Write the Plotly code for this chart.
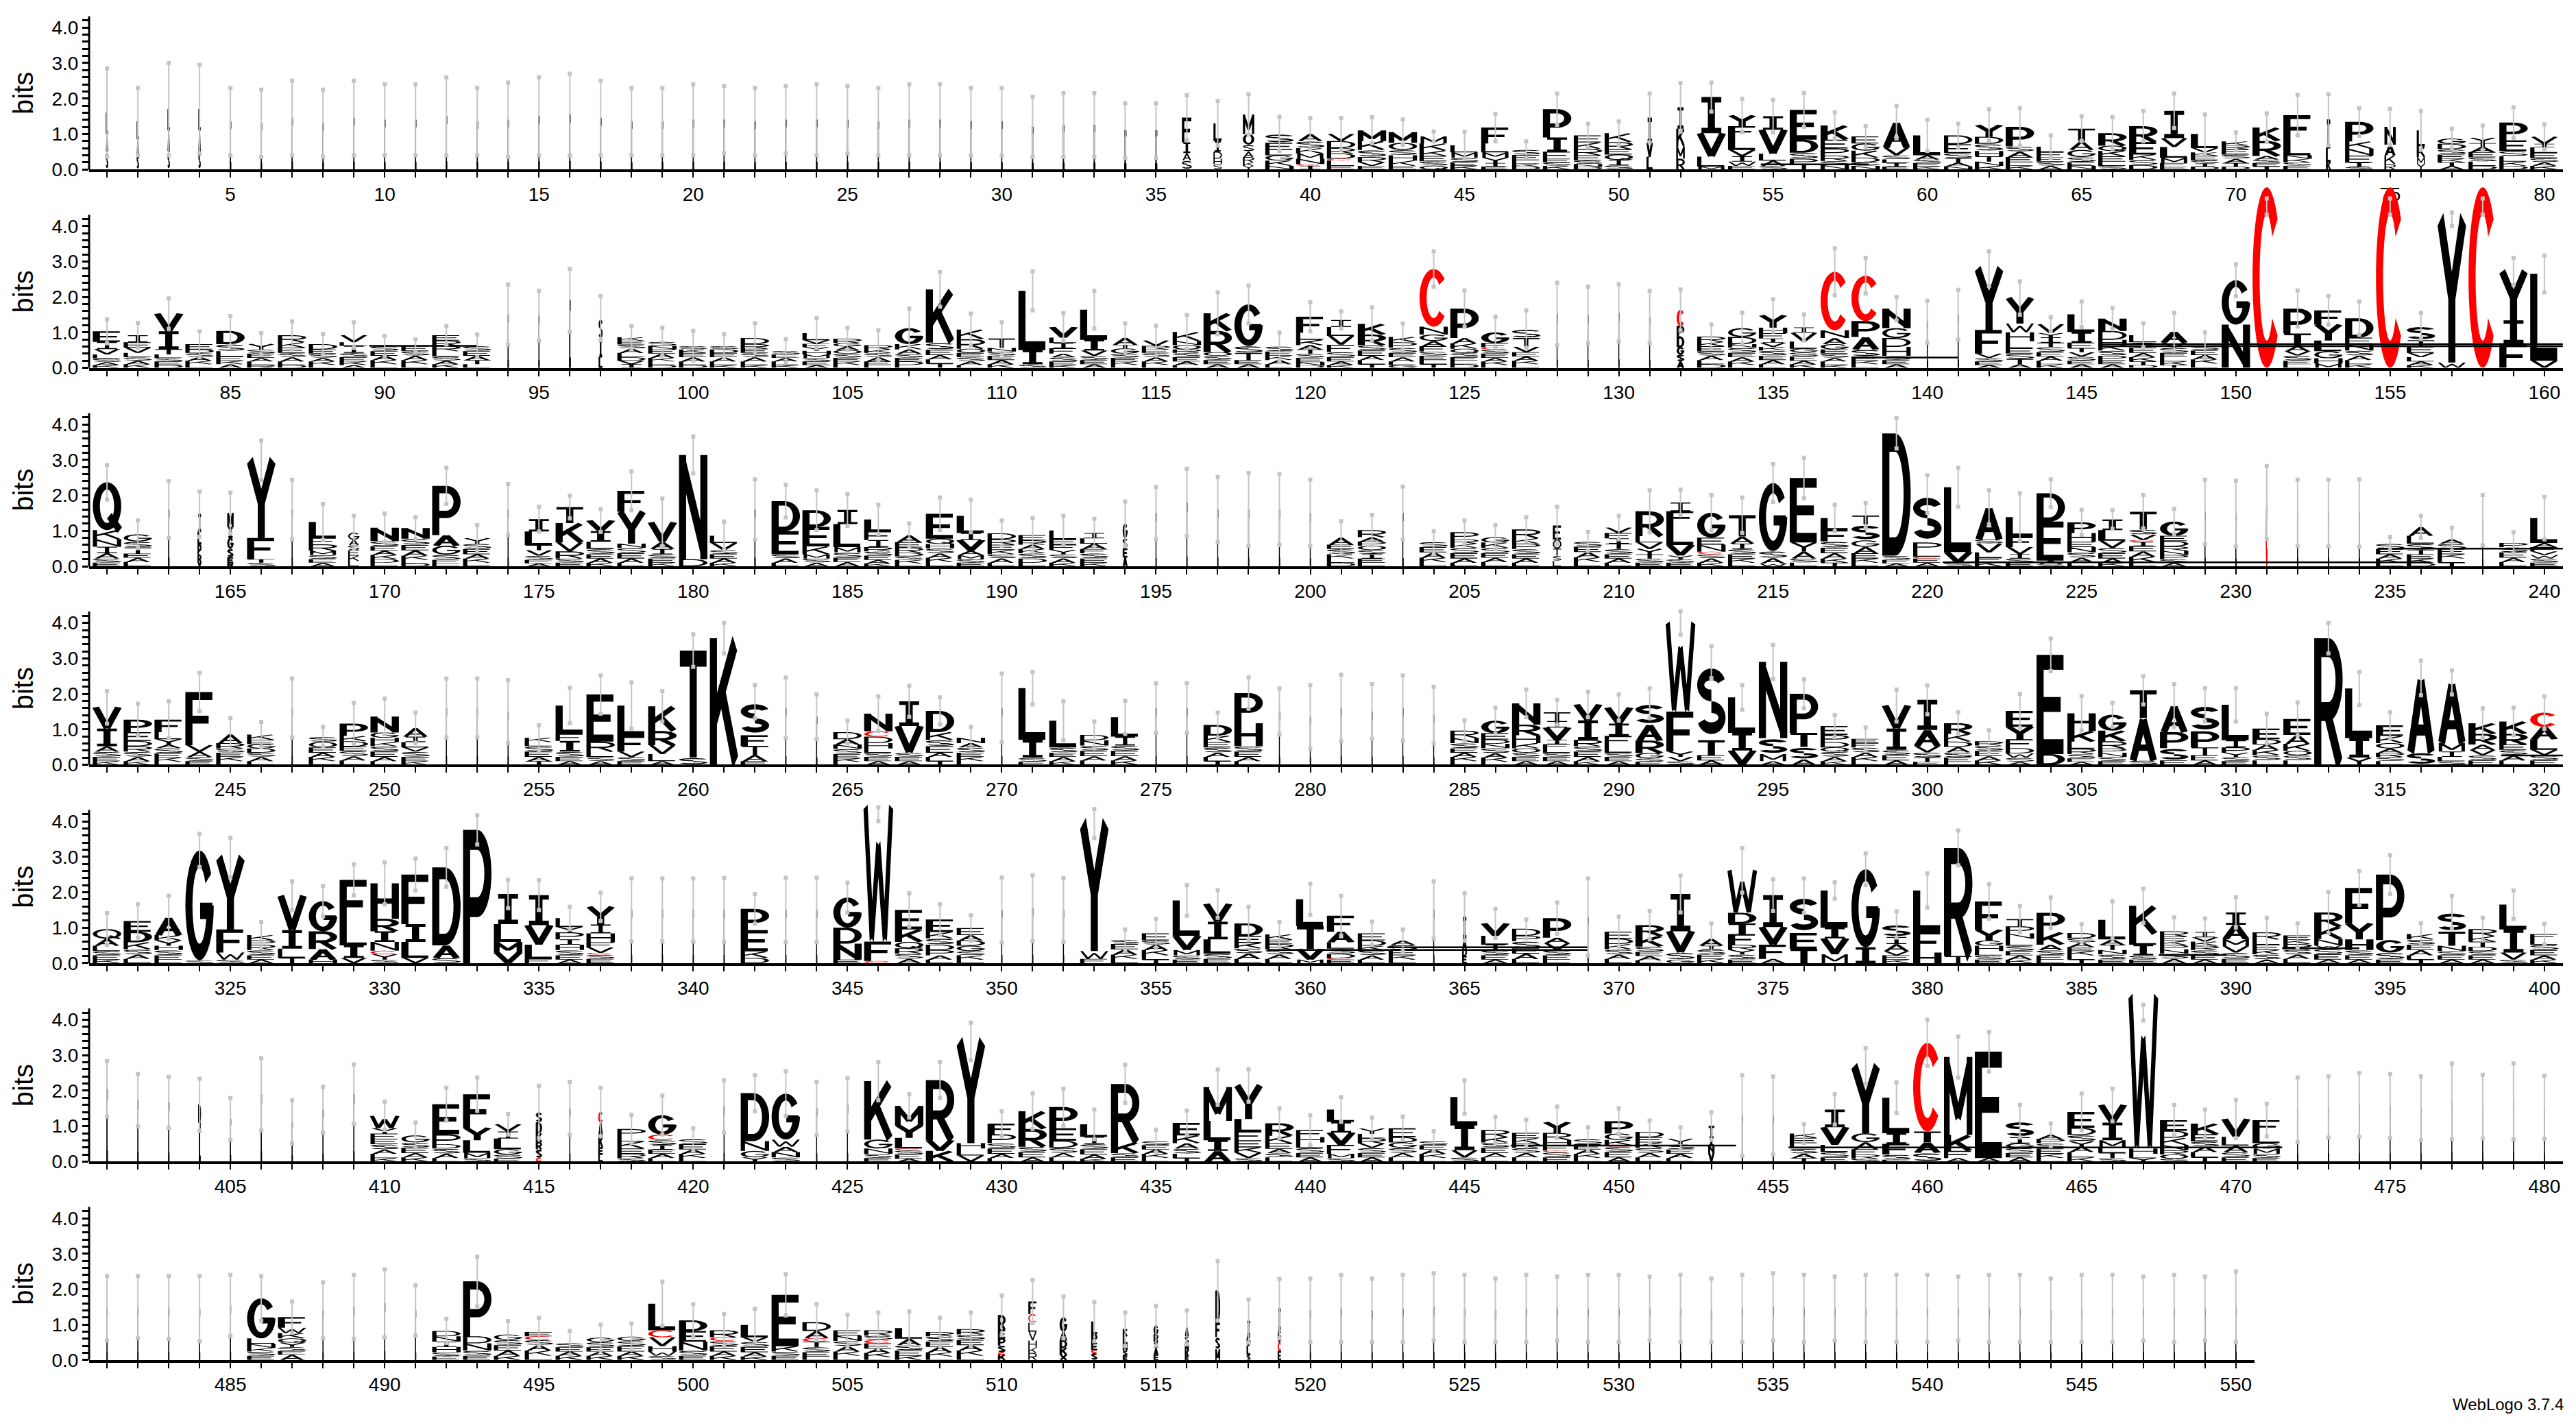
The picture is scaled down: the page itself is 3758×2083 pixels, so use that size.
import re
import numpy as np
import plotly.graph_objects as go

# ---------------- DATA ----------------
ROW_START = [1, 81, 161, 241, 321, 401, 481]
ROW_LEN = [80, 80, 80, 80, 80, 80, 70]

# each entry: letters top->bottom with heights (bits); "~w" = column width factor, "@c" = error-bar centre
stacks_1 = [
 "~.06L.6A.5S.5","~.06L.5A.45S.4","~.06L.6A.6S.5","~.06L.6A.6S.5","~.06I1.35","~.06I1.3","~.06I1.45","~.06I1.3","~.06I1.45","~.06I1.4",
 "~.06I1.4","~.06I1.5","~.06I1.35","~.06I1.4","~.06I1.5","~.06I1.55","~.06I1.45","~.06I1.35","~.06I1.35","~.06I1.4",
 "~.06I1.4","~.06I1.35","~.06I1.4","~.06I1.4","~.06I1.4","~.06I1.35","~.06I1.4","~.06I1.4","~.06I1.35","~.06I1.35",
 "~.08I1.2","~.08I1.25","~.08I1.25","~.1I1.1","~.1I1.1","~.35F.7I.3A.2S.26","~.3L.5I.3D.2H.15S.15","~.4M.55O.3S.2A.15R.15K.1Y.1","S.25E.2L.15G.15K.15N.1","A.2S.2K.15M.15N.15C.05I.1",
 "V.2D.2R.15D.15C.05L.15E.1","M.3K.25S.2R.15V.1E.1","M.3O.2S.15H.15K.15E.1","M.2K.2K.15E.15S.13Q.1","L.2M.15S.13E.1K.1","F.45L.25M.15Y.15I.1E.08","S.15E.15L.1K.08D.08","P.8I.4F.2E.1S.1K.1","E.2K.18R.18E.15S.1N.08D.07","K.25R.2E.15Q.15I.15S.12",
 "~.2I.7V.4L.35","~.3I.6K.5M.35R.3","I1.02V.66L.28M.08","Y.3F.3L.37V.18I.15W.12E.1","I.38V.68L.19A.15S.1","E.84D.37S.17P.15T.15","K.4E.25P.2R.15S.12N.12","E.2G.2K.2D.13S.1N.1","A.71V.22S.12L.1I.1E.08","L.56A.12S.1E.1K.08",
 "D.25E.25S.15T.12A.1N.09","Y.33D.2S.2H.15T.15N.12K.1","P.55S.15A.15E.15L.1K.1","L.15F.15E.12S.12A.1","T.35A.25G.2S.15E.1N.1","R.35Q.15K.15E.15L.12S.1","R.45E.35K.15S.15D.12","I.77V.25L.3M.15F.1E.08","L.4V.12K.1E.12S.1I.08D.08","K.12R.1E.15S.12A.12T.1D.08",
 "K.38R.42A.1S.1E.1T.08","F.73L.4N.1K.1S.1E.1","~.15I.8L.4K.2","P.55K.2N.2E.2I.12S.07","~.4N.5A.3K.25R.15","~.3L.45K.3M.2Y.15","G.15D.15S.15E.12K.1T.1A.1","Y.15T.1A.15E.15S.12L.12D.1","P.5E.3S.15L.15K.12D.1","V.2I.1L.15E.15S.12A.1K.1",
]
err_1 = [2.85,2.3,3.0,2.95,2.3,2.25,2.5,2.25,2.5,2.4, 2.4,2.6,2.3,2.45,2.6,2.7,2.5,2.3,2.3,2.4,
         2.35,2.3,2.35,2.4,2.35,2.3,2.4,2.4,2.3,2.3, 2.05,2.15,2.15,1.87,1.87,2.09,1.93,2.12,1.48,1.45,
         1.45,1.47,1.41,1.07,1.06,1.57,.79,2.14,1.29,1.35, 2.14,2.44,2.45,1.99,1.96,2.16,1.61,1.22,1.79,1.4,
         1.29,1.7,1.73,.96,1.5,1.47,1.65,2.14,1.55,1.04, 1.58,2.1,2.12,1.73,1.71,1.65,1.15,1.24,1.75,1.27]

stacks_2 = [
 "E.3I.2V.15L.12S.1A.08K.08","I.2E.15V.15L.12S.1A.1K.1","V.5I.5T.15L.1S.1E.1D.08","E.15D.1S.12A.1K.1L.1","D.37S.2L.15E.12K.1A.1","Y.15S.12E.12A.1L.1R.08","R.2K.15E.15S.12A.12L.1D.08","D.15E.12S.12A.1K.1L.08","V.2L.1I.2S.12E.12K.1A.08","S.15E.13A.12K.12L.1",
 "E.15S.13A.12K.12L.1","E.15R.15R.15L.15S.12A.1K.1","S.15E.13A.12T.12L.1","~.05I1.5","~.05I1.47","~.07I1.9","~.12S.6I.5L.3","K.1E.1S.12A.12L.12D.1V.1I.1","S.12N.1E.12A.12K.1L.1D.08","S.1K.1E.12A.12L.1D.08",
 "S.1D.1E.12A.12L.1K.08","D.17R.13E.12S.12A.12L.1K.08","S.1E.1A.1L.1K.08","L.2V.1F.1Y.1H.1M.1S.1E.1A.08","R.12G.1A.1O.1S.12E.1K.1L.08","R.12K.1S.12A.12E.1L.08","G.45K.15A.12S.12E.1D.1L.08","K1.5S.2E.15A.12L.12T.12","K.27R.27O.12E.12S.12A.1L.08","T.27N.1S.12E.12A.12K.1",
 "L1.67I.4S.1","V.3L.15I.15F.15A.1S.12E.1K.08","L.85I.3V.15S.12E.12A.1","A.2T.1G.15S.12E.1K.1L.08","V.15R.1E.1S.12A.12K.1L.08","K.25N.12O.12R.1S.12E.12A.1L.08","K.5R.6O.1S.12E.12A.1","G1.17S.2T.2E.12A.1","S.15E.12K.12A.12L.1","F.45L.2K.15A.12T.12S.12E.12N.1D.06",
 "I.2L.25V.25F.2S.15E.12A.1K.08","K.3R.3S.15E.15A.12L.12T.1","K.15P.15S.15E.12A.12L.1G.08","C1.63N.22G.18A.15F.15S.12E.12L.12T.1","P.83A.15K.15Q.12S.12E.1L.1D.1","G.3F.12C.06S.12E.12A.1K.1L.08","S.25T.25V.15E.12A.12K.1L.1","~.04I1.52","~.04I1.49","~.04I1.55",
 "~.04I1.43","~.25C.45P.3D.3G.2S.2A.18","R.15K.12E.15S.12A.12L.12D.1","G.25D.2N.1S.15E.12A.12K.1L.08","Y.35H.15F.15I.12V.12K.1S.15E.12A.12L.1","I.15V.25L.2G.1S.12E.12A.1K.1","C1.65N.22A.17G.15E.12S.12A.1L.1K.08","C1.28P.45A.35S.2E.12K.1L.1","N.55G.28D.25H.25S.12E.12A.1","~.05I1.3",
 "~.05I1.5","Y1.73F.67V.12S.1E.1A.08","Y.72W.25H.25L.2E.15S.15T.15A.1","V.25Y.12I.15T.12S.15E.12A.12L.1K.1","L.5I.3F.15T.12V.12S.12E.1A.1","N.35D.25H.15K.15S.15P.12E.12A.1","L.2S.15E.15A.12K.12T.1D.08","A.3V.15S.15E.12L.12K.1T.08","S.15E.13A.12K.12L.12","G1.25N1.22",
 "C5.1@4.55","P.7T.35A.15V.12S.15E.1L.1","F.4Y.45L.3G.2H.15M.12","D.55E.18N.18S.15A.12L.12K.1","C5.1@4.55","S.4T.18E.18V.12L.12A.1K.08","Y4.04W.15","C5.1@4.55","Y1.38I.65F.69","L2.45V.2",
]
err_2 = [1.37,1.27,1.96,1.03,1.46,.98,1.31,.96,1.28,.9, .81,1.18,.94,2.35,2.17,2.79,2.02,1.18,1.13,1.04,
         .95,1.26,.81,1.41,1.13,1.06,1.67,2.7,1.53,1.28, 2.72,1.54,2.17,1.26,1.19,1.49,2.13,2.32,.99,1.85,
         1.59,1.71,1.25,3.29,2.18,1.44,1.62,2.4,2.29,2.36, 2.17,2.21,1.22,1.56,1.94,1.51,3.37,3.1,2.0,1.89,
         2.2,3.29,2.44,1.43,1.87,1.69,1.26,1.55,1.0,2.92, 4.78,2.18,2.02,1.87,4.78,1.55,4.38,4.78,3.1,3.17]

stacks_3 = [
 "Q1.35K.25N.22I.18A.15S.12E.1","G.2S.17T.17E.12A.12L.12","~.05I1.6","~.12I.5L.35P.3R.2V.12","~.2M.4I.3G.3S.25E.15R.1","Y2.19F.6T.1S.1","~.04I1.6","L.45F.18R.18M.12S.12E.1A.1","~.4G.2A.15S.15E.15K.15L.15","N.38S.15E.12A.12K.12D.1L.1",
 "N.3S.18E.15A.15K.12L.1D.08","P1.39A.3G.25S.15E.1L.08","Y.15S.15E.15A.12K.12L.1","~.04I1.6","I.35L.38T.15V.15S.12E.1A.08","T.45K.55V.25R.2S.12E.1","V.3I.3L.2S.15E.12A.12K.1","F.59Y.9N.12S.15E.15A.12L.1","V.55A.2I.15S.12E.12K.1","N2.94D.2",
 "L.2V.2S.12E.12A.12K.1","~.05I1.6","D.85E.65S.12A.12L.1","D.47E.55K.22M.12S.12A.1","I.4L.65M.15S.15E.12A.12","L.33F.25I.2R.12S.12E.12A.1K.08","A.2E.15R.15D.1S.1K.1L.08","E.7Q.15H.12S.15A.12K.12L.12","L.48I.2V.3A.12M.12S.1E.1","D.17R.15E.15K.12S.12A.12L.1",
 "E.15R.12A.12K.12S.15D.12L.1","L.25E.15F.15Y.12S.12A.12K.1","I.15L.15A.15F.12S.15E.12K.1","~.15G.4S.3E.25A.25","~.04I1.5","~.04I1.8","~.04I1.6","~.04I1.6","~.04I1.6","~.04I1.5",
 "A.2E.12S.15K.12L.12D.1","R.2A.12P.12O.12S.12I.12E.12L.1","~.05I1.5","S.15E.15A.15K.12L.12","P.2R.12K.12S.15E.15A.12L.1","G.15K.15S.15E.13A.12L.12","R.25K.15P.15S.15E.12A.12L.1","~.3E.4O.25T.2S.15L.15","S.15E.15A.15K.13L.12","V.15F.15I.15T.15S.15E.12A.12L.1",
 "R.7L.18V.18Y.15T.12S.12E.1","I.25F.35L.6V.3Y.1S.1E.1","G.7E.2N.2C.07S.12A.12K.1","T.6A.2I.15S.15E.12K.12L.1","G1.92S.2A.15W.08","E1.82Y.25A.2S.12L.1","L.33F.33S.18E.15A.15K.12T.1","T.25S.45G.18A.18E.15K.12L.1","D3.45S.12E.1A.08","S1.37P.22L.18C.05E.12A.1",
 "L1.83V.3S.1","A.9S.12V.25L.15E.12K.12","L.55F.3V.2I.12S.12E.1","D.8E1.1A.1S.06","P.3H.25E.15N.15S.15A.12L.12","I.3L.3V.2S.15E.15A.12K.1","T.5S.15V.15C.05I.12E.15A.15K.15L.12","G.4E.15D.15R.12N.12P.12S.1A.1","~.04I1.53","~.04I1.48",
 "~.04C1.8","~.04I1.5","~.04I1.5","~.04I1.5","S.15E.15A.12K.12L.1","A.25L.22S.18T.12E.12K.12D.1","A.12S.15E.15K.12L.12T.1","~.04I1.3","P.12S.15E.15A.12L.12","L.7A.12F.12V.1W.1S.12E.1",
]
err_3 = [2.86,1.29,2.4,2.11,2.08,3.55,2.44,1.76,1.42,1.49, 1.39,2.78,1.16,2.32,1.68,1.99,1.61,2.68,1.91,3.66,
         1.26,2.45,2.3,2.14,2.04,1.73,1.21,1.94,1.88,1.29, 1.36,1.42,1.34,1.83,2.24,2.75,2.52,2.63,2.6,2.44,
         1.27,1.45,2.25,.99,1.29,1.16,1.39,1.68,.97,1.42, 2.14,2.16,2.01,1.94,2.88,3.06,1.73,1.78,4.18,2.57,
         2.78,2.14,2.06,2.45,1.59,1.58,2.01,1.62,2.44,2.41, 2.83,2.44,2.44,2.45,.83,1.42,1.09,2.01,.96,1.96]

stacks_4 = [
 "V.6I.5A.15S.15E.12K.1","P.35E.25D.15R.15S.15A.12K.1","F.35L.2Y.15A.1S.15E.12K.12L.08","F1.5V.18A.15S.12E.1","A.25R.15S.12E.12K.12L.1","K.15E.12G.12D.12S.12A.12L.1","~.04I1.6","S.15O.15E.15A.12K.12L.1","P.35K.15D.15E.12S.15A.12L.12","N.45G.15H.12K.12S.15E.15A.12L.1",
 "A.25I.15L.15V.12S.15E.12K.1","~.04I1.6","~.04I1.6","~.04I1.5","K.12L.12S.15E.15A.12T.1","L.8F.2I.3S.15E.12A.1","E1.33R.28L.15S.12A.1","L.85F.45V.15S.12E.1","K.7R.4V.25L.2A.1","T3.02S.2",
 "K3.57","S.95F.3T.25A.18E.1","~.04I1.6","~.05I1.35","D.2A.15N.12S.15E.12K.1L.08","N.5C.15D.18H.15L.12S.12E.12A.1","I.7V.75S.12E.12A.1","D.6K.22S.18E.18A.12L.12T.1","N.15A.12S.15E.12K.12L.1","~.04I1.6",
 "L1.46I.5S.12E.08","L.75S.15E.12A.12K.1","D.15N.15S.15E.15A.12L.12","L.55I.25S.15E.15A.12K.12","~.04I1.6","~.04I1.6","D.3K.18E.15S.15A.12L.12T.1","P.85H.65S.15E.15A.12L.1","~.04I1.5","~.04I1.35",
 "~.04I1.6","~.04I1.5","~.04I1.6","~.04I1.4","R.2N.15S.15E.12A.12K.12L.1","G.35E.18D.12N.12S.15A.12K.12L.08","N.6R.3H.22K.15O.12S.12E.12A.1","T.25I.18V.35I.12F.12L.12S.12E.12A.1","V.45I.55R.18S.15E.15A.12K.1","V.45I.35F.25L.22S.12E.12A.1",
 "S.6A.45R.35G.15S.1E.08","W2.5F1.13Y.15V.12S.1","S2.2T.42E.15A.12","L1.0I.5V.4","N2.15S.45M.2A.1","P1.1T.4S.35A.15","E.25P.2D.15Q.12S.15A.12K.1","E.12F.12S.15A.12K.12L.1","V.65I.6S.15E.15A.12","I.85A.45V.18S.15T.12E.08",
 "R.3K.22D.15A.15S.15E.12L.08","R.12S.15E.15A.12K.12","E.45Y.35F.25D.15W.12S.12A.08","E2.8D.3","H.5K.3L.2R.15S.12E.1A.08","G.45K.3R.2P.12N.12S.12E.1","T.78A1.2S.12","A.75P.45S.35E.12","S.75P.45T.22E.15A.12","L1.0I.2P.15Y.12S.12E.1",
 "E.3D.15A.15K.15S.15L.12","E.45A.25K.2O.12S.15L.12","R3.57","L1.4I.55Y.2","E.3K.2O.15A.12R.12S.12L.1","A2.1S.35","A1.7M.25I.15L.12S.1","K.3R.3A.15V.15S.15E.12","K.35R.3E.15S.15A.15L.12","C.4A.35L.3V.15S.15E.12",
]
err_4 = [2.08,1.72,1.79,2.59,1.32,1.21,2.43,1.07,1.74,1.86, 1.47,2.43,2.43,2.39,1.11,2.17,2.52,2.32,2.08,3.68,
         4.0,2.25,2.46,1.98,1.24,1.93,2.23,1.9,1.07,2.57, 2.62,1.79,1.22,1.81,2.3,2.3,1.47,2.46,2.15,2.25,
         2.54,2.27,2.52,2.2,1.25,1.61,2.12,1.83,2.06,1.98, 2.15,4.33,3.34,2.25,3.38,2.41,1.4,1.05,2.12,2.24,
         1.48,.97,2.0,3.56,1.94,1.75,2.5,2.27,2.16,2.16, 1.44,1.76,4.0,2.62,1.48,2.94,2.66,1.59,1.61,1.93]

stacks_5 = [
 "Q.27A.2L.15S.12E.12K.1","E.3D.3K.2S.15A.12L.12","A.5K.15Y.15H.12S.15E.12L.1","G3.1S.08","Y2.03F.65W.2S.1","K.15P.12R.15S.15E.12A.1","V.97I.52L.26T.15","G.85R.5A.3H.1","F1.3L.55I.35V.15","H1.0R.35I.3N.25C.1Y.15S.1",
 "F1.4I.5L.45V.15","D2.2A.35S.15","P3.76","I.85L.5M.3V.3","I.85V.55L.4F.12","L.25Y.15P.2I.15H.15S.15E.12A.1","Y.5I.25H.25F.15V.15C.05S.12E.12","~.04I1.5","~.04I1.5","~.04I1.5",
 "~.04I1.5","P.6E.6K.18D.15","~.04I1.5","~.04I1.5","G.85D.45N.45E.1","W3.8F.55C.06@4.2","E.55K.35Q.18R.15S.15A.12","E.35K.18S.18D.15P.15A.12L.1","E.2A.15D.15G.15S.12K.12L.1","~.04I1.5",
 "~.04I1.55","~.04I1.5","Y3.6W.22F.12","S.12E.15A.15K.12L.12","E.2S.12A.15K.15L.12T.1","L1.0V.4M.15S.12E.1","V.5I.5L.4S.15E.12","D.35E.2K.15S.15A.15L.12","K.15E.12R.15S.15A.12L.12","L.75T.65V.3M.1",
 "F.45A.3L.18S.15D.12C.04E.1","E.2D.15K.12S.15A.12L.1","A.12S.15E.15K.12L.1","~.04I1.5","~.15I.6A.3D.2E.2","V.35L.25I.15S.15E.12A.1","D.2P.15S.2E.15A.15L.12","P.55A.15V.2S.15E.12L.1","~.04I1.3","E.2D.15K.15S.15A.12L.12",
 "R.3K.3S.15E.12A.12L.08","I1.05V.6S.2G.1","A.2I.1S.15E.12K.12","W1.2D.3T.3F.3R.15Y.12S.15E.1","I.9V.5F.4A.12","S1.05E.45T.4","L1.05I.3V.45M.25","G2.2I.45","S.35I.2A.2V.12E.12K.1","L1.15F.6H.3",
 "R3.05T.2","F.8Y.3G.15H.15L.12S.12E.1","T.2P.2N.15L.2S.15E.12A.12K.1","P.55K.35A.15S.15E.12L.1","D.15S.12A.12E.12K.12L.12T.1","L.55A.15T.15N.12S.15E.1","K.8L.3I.3S.12E.1","R.15E.12K.12P.12N.12S.15A.12","I.15V.12K.12R.12S.15E.12A.1","I.35A.4M.2V.18S.18E.12",
 "R.2L.15E.15K.12S.15A.1","E.12K.12R.15S.15A.12L.12","R.4K.35N.18W.06C.04S.15E.15A.1","F1.0Y.45H.3S.15E.12A.1","P1.85G.35S.2E.1","K.15S.15E.15A.15L.12T.1","S.55T.4N.15S.12E.12A.1","R.2K.15T.15D.12S.12E.12A.1","L.7I.65V.2S.1","F.15L.15S.15E.15A.12K.1",
]
err_5 = [1.41,1.66,1.9,3.65,3.54,1.16,2.31,2.18,2.79,2.84, 2.95,3.25,4.17,2.35,2.34,1.59,1.99,2.39,2.39,2.39,
         2.4,1.95,2.41,2.41,2.27,4.4,1.97,1.66,1.35,2.42, 2.48,2.4,4.35,.95,1.25,2.2,2.06,1.59,1.16,2.24,
         1.9,1.17,.95,2.31,1.97,1.53,1.23,1.71,2.39,1.31, 1.47,2.47,1.12,3.25,2.37,2.39,2.28,3.1,1.46,2.53,
         3.74,2.23,1.61,1.85,1.1,1.75,2.1,1.29,1.26,1.86, 1.28,1.12,2.01,2.6,3.05,1.13,1.9,1.28,2.05,1.11]

stacks_6 = [
 "~.06I2.05","~.05I1.73","~.05I1.67","~.08D.5I1.1","~.05I1.2","~.05I1.9","~.05I1.12","~.05I1.46","~.05I1.9","W.35Y.15F.15E.15S.15A.12L.12K.1",
 "G.2S.15E.15A.12K.12","E.85P.28D.12S.15A.12L.1","F.95Y.35L.35M.15S.1","V.2I.2L.3G.15S.12E.08","~.2S.3D.3K.25R.2S.25C.1","~.04I1.5","~.15C.3A.4K.3E.2L.2","P.2L.15K.2E.15R.12S.1","G.55C.15S.15I.12E.12A.12L.1","S.15E.15A.12K.12L.1",
 "~.04I1.55","D1.35N.28G.18Y.12","G1.3W.2A.15N.15S.12","~.04I1.5","~.04I1.6","K1.65G.25N.15S.12E.1","M.55Y.35L.3C.05S.12E.12A.08","R1.7V.3K.3","Y2.87H.15L.2V.17","F.3P.25S.15E.15A.12L.1",
 "K.5R.5S.15E.15A.12","P.6E.35D.2S.15A.12L.12","L.35I.2S.15E.15A.12K.08","R1.65K.3S.12E.12","S.12E.12A.12K.12L.1","E.35K.22A.15S.15L.12T.1","M.95L.55I.3A.3","Y.95L.35F.25E.2K.15V.15S.1","R.35K.22E.15A.12S.12L.12","F.2H.15L.15S.15E.12A.12",
 "L.35I.3V.35F.25M.12S.1","Y.15L.12R.15V.12S.15E.12A.12","E.25D.15G.15S.15A.12L.12","S.12E.12A.12K.12L.1","L.8I.7V.2S.12","R.2K.15S.15E.15A.12L.12","E.15K.15R.12S.15A.12L.12","Y.3R.2H.15F.15C.04S.15E.12","S.15E.15A.12K.12L.1","P.35G.18K.15C.04S.15E.15A.12",
 "D.15E.15K.15S.15A.12L.12","Y.15S.15E.12A.12L.1","~.2T.3I.25N.2V.25","~.04I1.3","~.04I1.3","K.12E.15L.15S.15A.12T.1","I.5V.5L.2S.15E.12","Y1.9G.25A.2F.15R.12S.08","L1.0I.3F.3S.15E.05","C2.5T.3A.3S.25",
 "M2.2K.45F.2A.1","E3.0A.1","S.45I.18G.12S.15E.12A.12","A.12P.12S.15E.15K.12L.1","E.45D.2S.18Y.15A.15L.15K.12","V.5I.5M.2L.15T.15S.1","W4.3H.15L.12Y.1@4.2","E.3D.2K.2N.15R.12O.12S.08","K.3E.2S.15A.15L.15T.12","V.5L.25A.18S.15E.12",
 "F.35L.3G.15M.15S.12E.1","~.04I1.46","~.04I1.54","~.02I1.6","~.02I1.57","~.02I1.5","~.02I1.7","~.02I1.55","~.02I1.7","~.02I1.53",
]
err_6 = [2.83,2.47,2.39,2.34,1.79,2.92,1.73,2.11,2.74,1.69, 1.1,2.08,2.37,1.34,2.14,2.25,2.08,1.32,1.86,.94,
         2.29,2.44,2.55,2.25,2.35,2.81,1.9,2.81,3.92,1.42, 1.92,2.06,1.47,2.73,.9,1.44,2.6,2.61,1.5,1.31,
         1.82,1.24,1.27,.86,2.29,1.26,1.18,1.55,.97,1.5, 1.16,.97,1.39,2.44,2.4,1.05,1.9,3.2,2.23,4.0,
         3.53,3.66,1.6,1.08,1.92,2.06,4.42,1.6,1.47,1.74, 1.63,2.37,2.4,2.5,2.47,2.4,2.77,2.45,2.77,2.42]

stacks_7 = [
 "~.04I1.46","~.04I1.49","~.04I1.48","~.04I1.45","~.04I1.54","G1.13L.15N.12K.1S.12E.12","F.3W.15K.15Q.12Y.12S.12E.1A.15","~.04I1.4","~.04I1.5","~.04I1.6",
 "~.04I1.4","D.15N.15I.15H.15S.12E.1","P1.55D.2N.2S.15E.12","G.15S.15E.15A.15K.12","E.12C.1S.15A.15K.15L.12","S.12E.12A.12K.12","G.12S.15E.12A.12K.12","G.12S.15E.15A.12K.12","L.75C.2V.25H.15W.12S.12","D.3E.3N.25S.15E.12",
 "R.2C.1S.15E.15A.12K.12","L.35V.12S.15E.15A.12K.1","E1.45K.15S.12E.12","D.25A.2C.1T.15S.15E.12L.1","E.15N.15S.15A.15K.12L.12","R.15S.12C.1E.15A.12K.12L.08","L.3A.18S.15E.15K.12","R.12S.15E.15A.15K.12L.1","R.15S.15E.15A.15K.15L.12","~.25R.4E.25P.2S.2C.06K.15",
 "~.3F.35C.25L.25V.25H.2K.15R.2","~.25G.4A.25D.2K.2X.15","~.2L.35P.25E.2C.08S.2","~.15K.2L.2N.2S.15E.12","~.15G.25R.2S.2A.17E.15","~.12A.25S.2N.2K.15E.12","~.15D.9F.4S.35M.3","~.12I.4G.3L.25S.15","~.1I.6G.35C.25E.25","~.04I1.4",
 "~.04I1.45","~.04I1.4","~.04I1.45","~.04I1.5","~.04I1.45","~.04I1.4","~.04I1.45","~.04I1.45","~.04I1.45","~.04I1.45",
 "~.04I1.45","~.04I1.45","~.04I1.4","~.04I1.45","~.04I1.5","~.04I1.45","~.04I1.45","~.04I1.45","~.04I1.45","~.04I1.45",
 "~.04I1.45","~.04I1.45","~.04I1.45","~.04I1.4","~.04I1.45","~.04I1.45","~.04I1.45","~.04I1.45","~.04I1.45","~.04I1.5",
]
err_7 = [2.37,2.37,2.37,2.37,2.4,2.37,1.65,2.19,2.4,2.56, 2.11,1.16,2.92,1.1,1.19,.82,1.0,1.03,2.21,1.58,
         1.3,1.45,2.42,1.58,1.28,1.34,1.37,1.19,1.34,1.82, 2.26,1.79,1.63,1.34,1.53,1.4,2.79,1.71,2.29,2.3,
         2.4,2.3,2.4,2.45,2.4,2.3,2.4,2.35,2.4,2.4, 2.35,2.4,2.3,2.4,2.45,2.4,2.35,2.4,2.4,2.4,
         2.35,2.4,2.4,2.3,2.4,2.4,2.35,2.4,2.35,2.5]

# long horizontal strokes visible in the logo: (from position, to position, bits)
hlines = [(54.6, 58.1, 0.14), (89.5, 93.0, 0.62), (137.6, 141.0, 0.29), (145.6, 160.6, 0.67),
          (145.6, 160.6, 0.61), (220.5, 236.3, 0.11), (234.6, 240.6, 0.5), (318.6, 320.6, 0.26),
          (358.6, 369.0, 0.37), (362.5, 369.0, 0.45), (387.5, 389.7, 0.23), (391.5, 394.0, 0.42),
          (446.5, 453.8, 0.45), (455.5, 471.5, 0.4)]

y_tick_labels = ["0.0", "1.0", "2.0", "3.0", "4.0"]

STACKS = [stacks_1, stacks_2, stacks_3, stacks_4, stacks_5, stacks_6, stacks_7]
ERRS = [err_1, err_2, err_3, err_4, err_5, err_6, err_7]
for k in range(7):
    assert len(STACKS[k]) == ROW_LEN[k], (k, len(STACKS[k]))
    assert len(ERRS[k]) == ROW_LEN[k], (k, len(ERRS[k]))


# ---------------- GLYPHS (stroke outlines in a unit box) ----------------
def build_glyphs(TX, TY):
    def seg(x0, y0, x1, y1, cap=True, tx=TX, ty=TY):
        dx, dy = x1 - x0, y1 - y0
        L = np.hypot(dx, dy)
        ux, uy = dx / L, dy / L
        nx, ny = -uy, ux
        ox, oy = nx * tx / 2, ny * ty / 2
        ex, ey = (ux * tx / 2, uy * ty / 2) if cap else (0.0, 0.0)
        p0 = (x0 - ex, y0 - ey)
        p1 = (x1 + ex, y1 + ey)
        return np.array([[p0[0] + ox, p0[1] + oy], [p1[0] + ox, p1[1] + oy],
                         [p1[0] - ox, p1[1] - oy], [p0[0] - ox, p0[1] - oy]])

    def arc(cx, cy, rx, ry, a0, a1, tx=TX, ty=TY, n=30):
        t = np.radians(np.linspace(a0, a1, n))
        outer = np.c_[cx + (rx + tx / 2) * np.cos(t), cy + (ry + ty / 2) * np.sin(t)]
        inner = np.c_[cx + (rx - tx / 2) * np.cos(t), cy + (ry - ty / 2) * np.sin(t)][::-1]
        return np.vstack([outer, inner])

    a, b, B, T = TX / 2, 1 - TX / 2, TY / 2, 1 - TY / 2
    RX, RY = 0.5 - TX / 2, 0.5 - TY / 2

    def stem(x):
        return seg(x, B, x, T)

    P_BOWL = [seg(a, T, 0.5, T, False), seg(a, 0.42, 0.5, 0.42, False),
              arc(0.5, (T + 0.42) / 2, b - 0.5, (T - 0.42) / 2, -90, 90)]
    O_RING = [arc(0.5, 0.5, RX, RY, 0, 180), arc(0.5, 0.5, RX, RY, 180, 360)]
    TM, TW = TX * 0.8, TX * 0.6
    g = {
        'A': [seg(0.14, 0, 0.5, 0.96, False), seg(0.5, 0.96, 0.86, 0, False), seg(0.3, 0.3, 0.7, 0.3, False)],
        'C': [arc(0.5, 0.5, RX, RY, 40, 320)],
        'D': [stem(a), seg(a, T, 0.45, T, False), seg(a, B, 0.45, B, False), arc(0.45, 0.5, b - 0.45, T - 0.5, -90, 90)],
        'E': [stem(a), seg(a, T, 0.95, T, False), seg(a, 0.5, 0.85, 0.5, False), seg(a, B, 0.95, B, False)],
        'F': [stem(a), seg(a, T, 0.95, T, False), seg(a, 0.48, 0.82, 0.48, False)],
        'G': [arc(0.5, 0.5, RX, RY, 35, 360), seg(0.52, 0.45, 0.95, 0.45, False)],
        'H': [stem(a), stem(b), seg(a, 0.5, b, 0.5, False)],
        'I': [seg(0.5, B, 0.5, T), seg(0.15, T, 0.85, T, False), seg(0.15, B, 0.85, B, False)],
        'K': [stem(a), seg(a + 0.05, 0.38, 0.88, 0.96, False), seg(0.4, 0.6, 0.9, 0.02, False)],
        'L': [stem(a), seg(a, B, 0.95, B, False)],
        'M': [seg(0.1, B, 0.1, T, True, TM), seg(0.9, B, 0.9, T, True, TM),
              seg(0.1, T, 0.5, 0.22, False, TM), seg(0.5, 0.22, 0.9, T, False, TM)],
        'N': [stem(a), stem(b), seg(a, T, b, B, False)],
        'O': O_RING,
        'P': [stem(a)] + P_BOWL,
        'Q': O_RING + [seg(0.58, 0.3, 0.95, 0.0, False)],
        'R': [stem(a)] + P_BOWL + [seg(0.45, 0.42, 0.9, 0.0, False)],
        'S': [arc(0.5, 0.71, RX, 0.5 - 0.29 - TY / 2, 20, 270), arc(0.5, 0.29, RX, 0.5 - 0.29 - TY / 2, -160, 90)],
        'T': [seg(0.03, T, 0.97, T, False), seg(0.5, B, 0.5, T)],
        'V': [seg(0.1, 1.0, 0.5, 0.02, False), seg(0.5, 0.02, 0.9, 1.0, False)],
        'W': [seg(0.05, 1.0, 0.27, 0.02, False, TW), seg(0.27, 0.02, 0.5, 0.72, False, TW),
              seg(0.5, 0.72, 0.73, 0.02, False, TW), seg(0.73, 0.02, 0.95, 1.0, False, TW)],
        'Y': [seg(0.1, 1.0, 0.5, 0.45, False), seg(0.9, 1.0, 0.5, 0.45, False), seg(0.5, B, 0.5, 0.5)],
        'X': [seg(0.1, 1.0, 0.9, 0.0, False), seg(0.1, 0.0, 0.9, 1.0, False)],
        'Z': [seg(0.08, T, 0.92, T, False), seg(0.08, B, 0.95, B, False), seg(0.88, T, 0.12, B, False)],
    }

    def orient(poly):
        x, y = poly[:, 0], poly[:, 1]
        area = 0.5 * np.sum(x * np.roll(y, -1) - np.roll(x, -1) * y)
        return poly if area >= 0 else poly[::-1]

    return {k: [orient(p) for p in v] for k, v in g.items()}


GLYPHS_BOLD = build_glyphs(0.25, 0.15)
GLYPHS_THIN = build_glyphs(0.15, 0.13)

# ---------------- LAYOUT GEOMETRY ----------------
W, H = 3758, 2083
PXB = 52.1            # pixels per bit
BASE = [249 + k * 291.7 for k in range(7)]
YMAX = [4.6] + [5.45] * 6
X0 = 130
COL = 45.01
FONT = "Liberation Sans, Arial, Helvetica, sans-serif"

fig = go.Figure()
layout = dict(width=W, height=H, margin=dict(l=0, r=0, t=0, b=0),
              paper_bgcolor="white", plot_bgcolor="white", showlegend=False,
              shapes=[], annotations=[])

pat = re.compile(r'([A-Z~@])(\d*\.?\d+)')


def add_fill(xs, ys, color, outline, xa, ya):
    if xs:
        fig.add_trace(go.Scatter(x=xs, y=ys, mode='lines', fill='toself', fillcolor=color,
                                 line=dict(color=color, width=outline, simplify=False),
                                 hoverinfo='skip', xaxis=xa, yaxis=ya))


for k in range(7):
    xa = 'x' if k == 0 else f'x{k+1}'
    ya = 'y' if k == 0 else f'y{k+1}'
    start = ROW_START[k]
    n = ROW_LEN[k]
    buck = {(c, nw): ([], []) for c in ('black', '#ff0000') for nw in (False, True)}
    ex_, ey_ = [], []
    for i, s in enumerate(STACKS[k]):
        p = start + i
        w, centre = 1.0, None
        letters = []
        for tok, val in pat.findall(s):
            v = float(val)
            if tok == '~':
                w = v
            elif tok == '@':
                centre = v
            else:
                letters.append((tok, v))
        base = 0.0
        for ch, h in reversed(letters):
            key = ('#ff0000' if ch == 'C' else 'black', w < 0.3)
            bx, by = buck[key]
            glyphs = GLYPHS_BOLD if (h >= 0.3 or w < 0.3) else GLYPHS_THIN
            for poly in glyphs[ch]:
                xs = p + (poly[:, 0] - 0.5) * 0.92 * w
                ys = base + poly[:, 1] * h
                bx.extend(xs.tolist() + [None]); by.extend(ys.tolist() + [None])
            base += h
        top = base if centre is None else centre
        U = ERRS[k][i]
        e = max(U - top, 0.03)
        ex_.extend([p, p, None]); ey_.extend([max(top - e, 0), top + e, None])

    for (c, nw), (bx, by) in buck.items():
        add_fill(bx, by, c, 1.0 if nw else 0, xa, ya)

    hx, hy = [], []
    for (s0, s1, yv) in hlines:
        if start - 0.6 <= s0 < start + n - 0.4:
            hx.extend([s0, min(s1, start + n - 0.4), None]); hy.extend([yv, yv, None])
    if hx:
        fig.add_trace(go.Scatter(x=hx, y=hy, mode='lines', line=dict(color='black', width=2.5),
                                 hoverinfo='skip', xaxis=xa, yaxis=ya))
    fig.add_trace(go.Scatter(x=ex_, y=ey_, mode='lines+markers',
                             line=dict(color='#c4c4c4', width=2),
                             marker=dict(symbol='square', size=6, color='#c4c4c4'),
                             hoverinfo='skip', xaxis=xa, yaxis=ya))

    xr = [start - 0.58, start + n - 1 + 0.6]
    x_right = (X0 + (xr[1] - xr[0]) * COL) / W
    ydom = [1 - BASE[k] / H, 1 - (BASE[k] - YMAX[k] * PXB) / H]
    tv = list(range(start, start + n))
    tt = [str(v) if v % 5 == 0 else '' for v in tv]
    ytv = [round(0.2 * j, 1) for j in range(22)]
    ytt = [y_tick_labels[int(v)] if abs(v - round(v)) < 1e-9 else '' for v in ytv]
    layout['xaxis' if k == 0 else f'xaxis{k+1}'] = dict(
        domain=[X0 / W, x_right], range=xr, anchor=ya, showline=True, linewidth=4,
        linecolor='black', ticks='outside', ticklen=8, tickwidth=2, tickcolor='black',
        tickvals=tv, ticktext=tt, tickfont=dict(size=28, family=FONT, color='black'),
        showgrid=False, zeroline=False, fixedrange=True)
    layout['yaxis' if k == 0 else f'yaxis{k+1}'] = dict(
        domain=ydom, range=[0, YMAX[k]], anchor=xa, showline=False, ticks='outside',
        ticklen=9, tickwidth=2.5, tickcolor='black', tickvals=ytv, ticktext=ytt,
        tickfont=dict(size=28, family=FONT, color='black'), showgrid=False,
        zeroline=False, fixedrange=True)
    layout['shapes'].append(dict(type='line', xref=f'{xa} domain', yref=ya, x0=0, x1=0,
                                 y0=0, y1=4.32, line=dict(color='black', width=3)))
    layout['annotations'].append(dict(text='bits', x=34 / W, y=1 - (BASE[k] - 2.15 * PXB) / H,
                                      xref='paper', yref='paper', textangle=-90, showarrow=False,
                                      xanchor='center', yanchor='middle',
                                      font=dict(size=40, family=FONT, color='black')))

layout['annotations'].append(dict(text='WebLogo 3.7.4', x=3742 / W, y=1 - 2064 / H,
                                  xref='paper', yref='paper', showarrow=False,
                                  xanchor='right', yanchor='middle',
                                  font=dict(size=24, family=FONT, color='black')))
fig.update_layout(**layout)
fig.write_html("out.html")
